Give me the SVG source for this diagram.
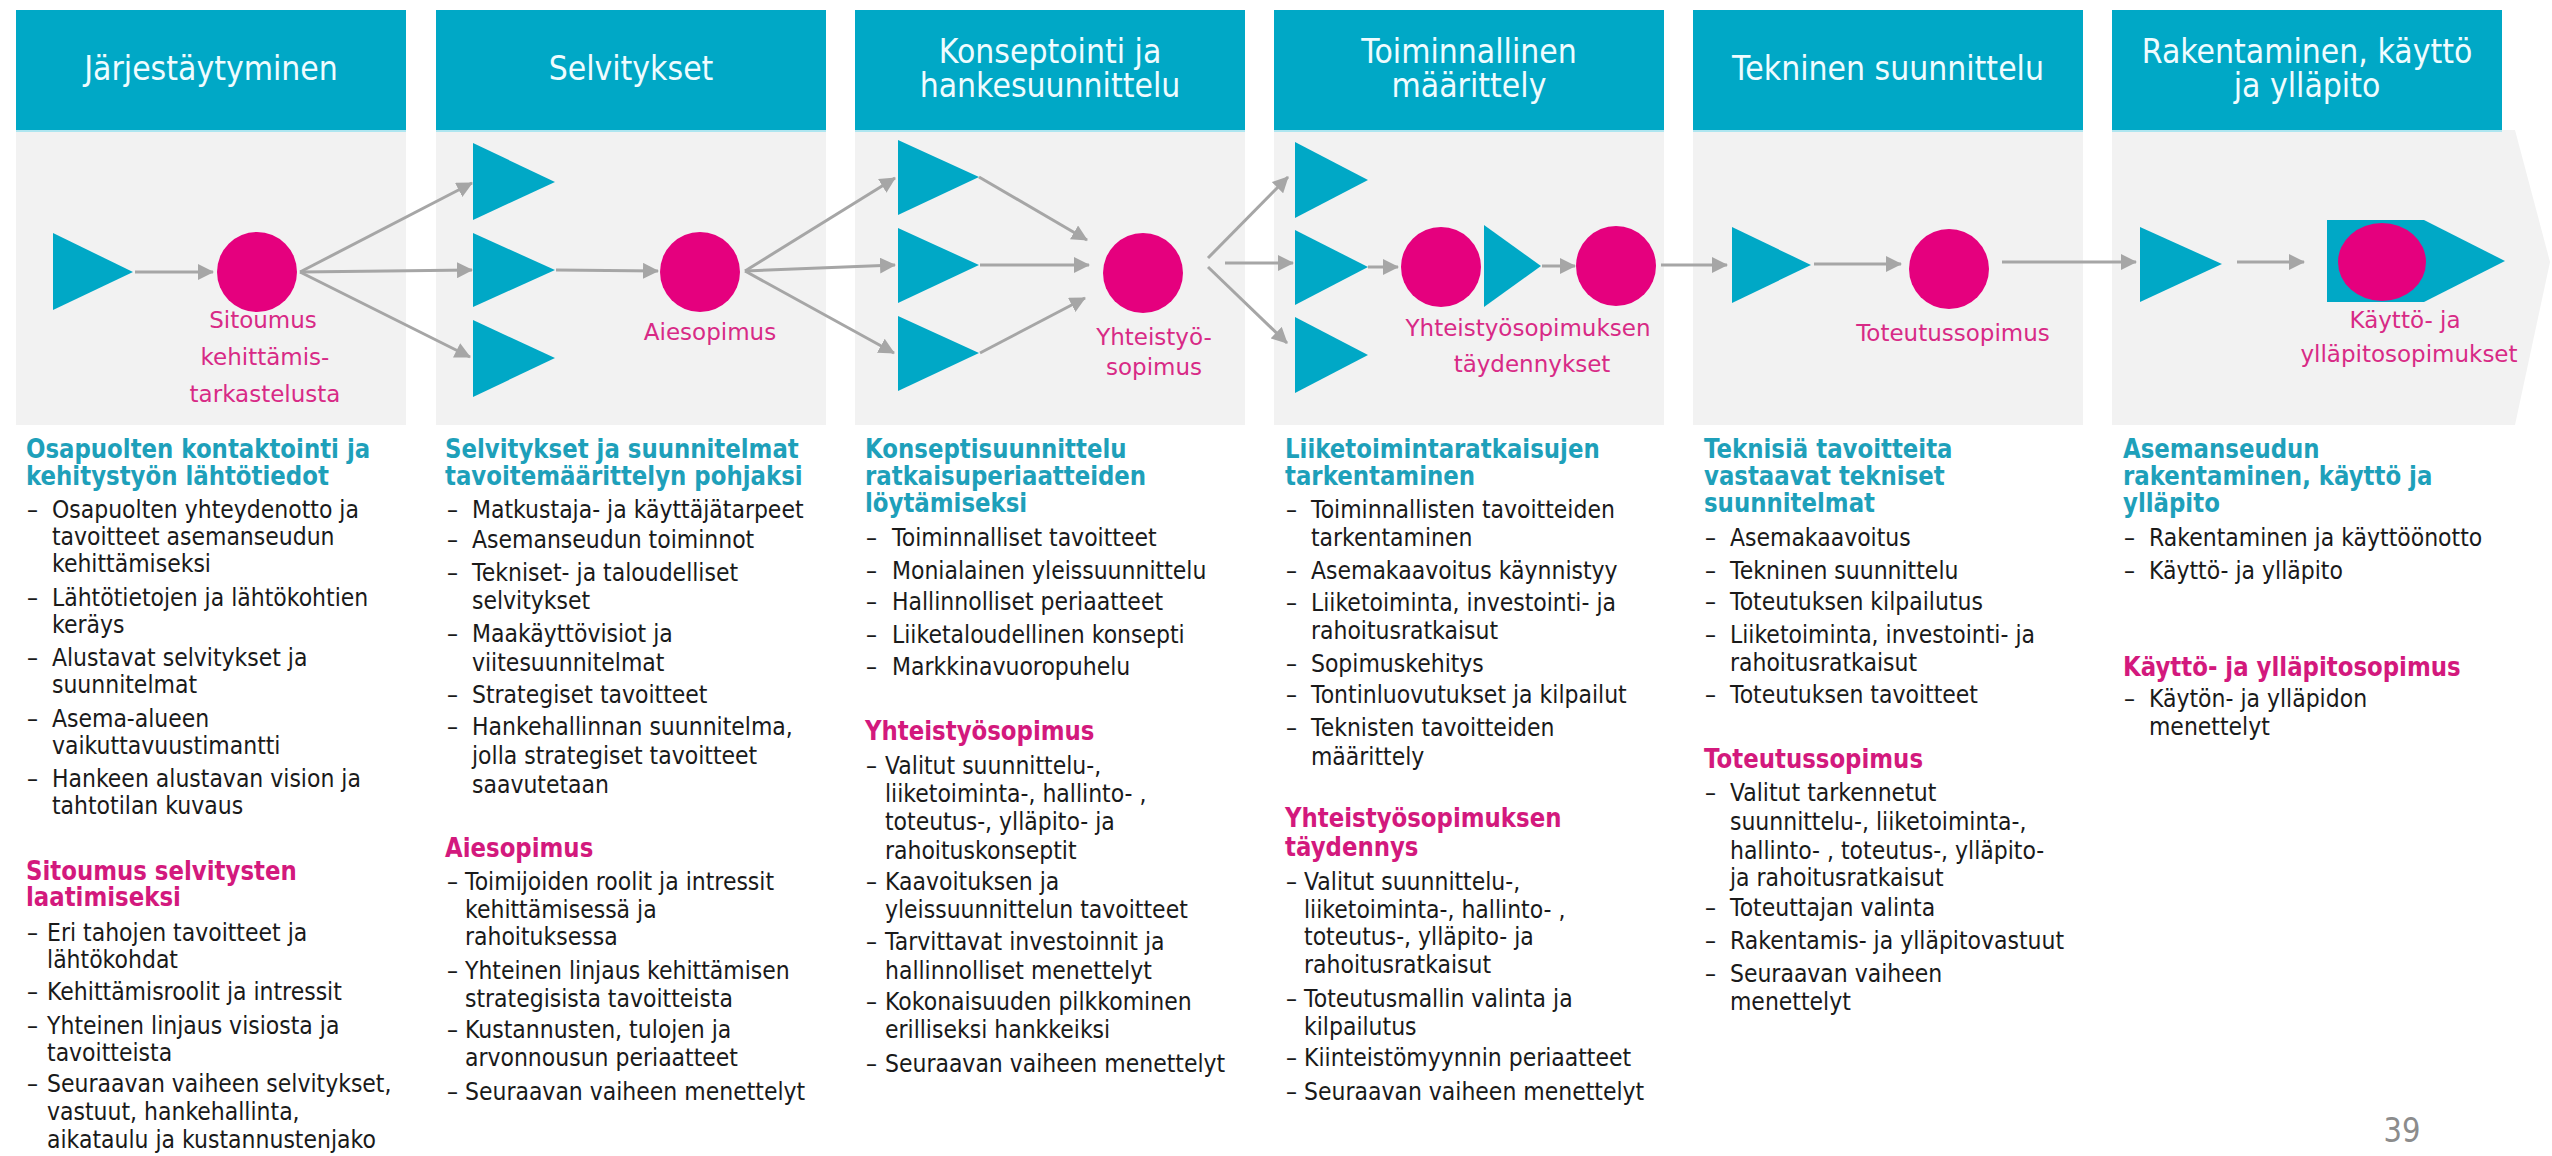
<svg xmlns="http://www.w3.org/2000/svg" width="2552" height="1156" viewBox="0 0 2552 1156">
<defs>
<style>
.hdr{fill:#00a8c6}
.body{fill:#f2f2f2}
.ht{font-family:"DejaVu Sans",Verdana,sans-serif;font-size:33px;fill:#effcff;text-anchor:middle}
.tri{fill:#00a8c6}
.cir{fill:#e5007e}
.lbl{font-family:"DejaVu Sans",Verdana,sans-serif;font-size:23px;fill:#d82a86;text-anchor:middle}
.con{stroke:#a6a6a6;stroke-width:3;fill:none;marker-end:url(#ah)}
.b{font-family:"DejaVu Sans",Verdana,sans-serif;font-size:25px;fill:#1a1a1a}
.h1{font-family:"DejaVu Sans",Verdana,sans-serif;font-size:26px;font-weight:bold;fill:#1ea0ba}
.h2{font-family:"DejaVu Sans",Verdana,sans-serif;font-size:26px;font-weight:bold;fill:#d3197d}
.pg{font-family:"DejaVu Sans",Verdana,sans-serif;font-size:33px;fill:#8c8c8c;text-anchor:middle}
</style>
<marker id="ah" markerWidth="16" markerHeight="16" refX="15" refY="8" orient="auto" markerUnits="userSpaceOnUse">
<path d="M0,0 L16,8 L0,16 z" fill="#a6a6a6"/>
</marker>
</defs>
<rect width="2552" height="1156" fill="#ffffff"/>

<g id="phases">
<rect class="body" x="16" y="130" width="390" height="295"/>
<rect class="body" x="436" y="130" width="390" height="295"/>
<rect class="body" x="855" y="130" width="390" height="295"/>
<rect class="body" x="1274" y="130" width="390" height="295"/>
<rect class="body" x="1693" y="130" width="390" height="295"/>
<path class="body" d="M2112,130 H2515 L2550,262 L2515,425 H2112 Z"/>
<rect class="hdr" x="16" y="10" width="390" height="120"/>
<rect class="hdr" x="436" y="10" width="390" height="120"/>
<rect class="hdr" x="855" y="10" width="390" height="120"/>
<rect class="hdr" x="1274" y="10" width="390" height="120"/>
<rect class="hdr" x="1693" y="10" width="390" height="120"/>
<rect class="hdr" x="2112" y="10" width="390" height="120"/>
<g stroke="#aee6f0" stroke-width="2">
<line x1="16" y1="131" x2="406" y2="131"/>
<line x1="436" y1="131" x2="826" y2="131"/>
<line x1="855" y1="131" x2="1245" y2="131"/>
<line x1="1274" y1="131" x2="1664" y2="131"/>
<line x1="1693" y1="131" x2="2083" y2="131"/>
<line x1="2112" y1="131" x2="2502" y2="131"/>
</g>
<text class="ht" transform="translate(211,80) scale(0.91,1)">Järjestäytyminen</text>
<text class="ht" transform="translate(631,80) scale(0.91,1)">Selvitykset</text>
<text class="ht" transform="translate(1050,63) scale(0.91,1)"><tspan x="0" y="0">Konseptointi ja</tspan><tspan x="0" y="34">hankesuunnittelu</tspan></text>
<text class="ht" transform="translate(1469,63) scale(0.91,1)"><tspan x="0" y="0">Toiminnallinen</tspan><tspan x="0" y="34">määrittely</tspan></text>
<text class="ht" transform="translate(1888,80) scale(0.91,1)">Tekninen suunnittelu</text>
<text class="ht" transform="translate(2307,63) scale(0.91,1)"><tspan x="0" y="0">Rakentaminen, käyttö</tspan><tspan x="0" y="34">ja ylläpito</tspan></text>
</g>

<g id="connectors">
<line class="con" x1="135" y1="272" x2="213" y2="272"/>
<line class="con" x1="300" y1="272" x2="472" y2="183"/>
<line class="con" x1="300" y1="272" x2="472" y2="270"/>
<line class="con" x1="300" y1="272" x2="470" y2="357"/>
<line class="con" x1="556" y1="270" x2="658" y2="271"/>
<line class="con" x1="745" y1="271" x2="895" y2="178"/>
<line class="con" x1="745" y1="271" x2="895" y2="265"/>
<line class="con" x1="745" y1="271" x2="894" y2="353"/>
<line class="con" x1="979" y1="177" x2="1087" y2="240"/>
<line class="con" x1="980" y1="265" x2="1089" y2="265"/>
<line class="con" x1="980" y1="353" x2="1085" y2="298"/>
<line class="con" x1="1208" y1="258" x2="1288" y2="177"/>
<line class="con" x1="1225" y1="263" x2="1293" y2="263"/>
<line class="con" x1="1208" y1="267" x2="1287" y2="343"/>
<line class="con" x1="1368" y1="267" x2="1398" y2="267"/>
<line class="con" x1="1542" y1="266" x2="1575" y2="266"/>
<line class="con" x1="1661" y1="265" x2="1727" y2="265"/>
<line class="con" x1="1814" y1="264" x2="1901" y2="264"/>
<line class="con" x1="2002" y1="262" x2="2136" y2="262"/>
<line class="con" x1="2237" y1="262" x2="2304" y2="262"/>
</g>

<g id="n-start1"><polygon class="tri" points="53,233 133,272 53,310"/></g>
<g id="n-sitoumus">
<circle class="cir" cx="257" cy="272" r="40"/>
<text class="lbl" x="263" y="328">Sitoumus</text>
<text class="lbl" x="265" y="365">kehittämis-</text>
<text class="lbl" x="265" y="402">tarkastelusta</text>
</g>
<g id="n-selv-a"><polygon class="tri" points="473,143 555,182 473,220"/></g>
<g id="n-selv-b"><polygon class="tri" points="473,233 555,270 473,307"/></g>
<g id="n-selv-c"><polygon class="tri" points="473,320 555,358 473,397"/></g>
<g id="n-aiesopimus">
<circle class="cir" cx="700" cy="272" r="40"/>
<text class="lbl" x="710" y="340">Aiesopimus</text>
</g>
<g id="n-kons-a"><polygon class="tri" points="898,140 979,177 898,215"/></g>
<g id="n-kons-b"><polygon class="tri" points="898,228 979,265 898,303"/></g>
<g id="n-kons-c"><polygon class="tri" points="898,316 979,353 898,391"/></g>
<g id="n-yhteistyosopimus">
<circle class="cir" cx="1143" cy="273" r="40"/>
<text class="lbl" x="1154" y="345">Yhteistyö-</text>
<text class="lbl" x="1154" y="375">sopimus</text>
</g>
<g id="n-toim-a"><polygon class="tri" points="1295,142 1368,180 1295,218"/></g>
<g id="n-toim-b"><polygon class="tri" points="1295,230 1368,267 1295,305"/></g>
<g id="n-toim-c"><polygon class="tri" points="1295,317 1368,355 1295,393"/></g>
<g id="n-toim-circle1"><circle class="cir" cx="1441" cy="267" r="40"/></g>
<g id="n-toim-d"><polygon class="tri" points="1484,225 1541,266 1484,307"/></g>
<g id="n-taydennykset">
<circle class="cir" cx="1616" cy="266" r="40"/>
<text class="lbl" x="1528" y="336">Yhteistyösopimuksen</text>
<text class="lbl" x="1532" y="372">täydennykset</text>
</g>
<g id="n-tekn"><polygon class="tri" points="1732,227 1811,265 1732,303"/></g>
<g id="n-toteutussopimus">
<circle class="cir" cx="1949" cy="269" r="40"/>
<text class="lbl" x="1953" y="341">Toteutussopimus</text>
</g>
<g id="n-rak"><polygon class="tri" points="2140,227 2222,264 2140,302"/></g>
<g id="n-kayttosopimukset">
<polygon class="tri" points="2327,220 2424,220 2505,261 2424,302 2327,302"/>
<ellipse class="cir" cx="2382" cy="262" rx="44" ry="39"/>
<text class="lbl" x="2405" y="328">Käyttö- ja</text>
<text class="lbl" x="2409" y="362">ylläpitosopimukset</text>
</g>

<g id="text-col1" transform="translate(26,0) scale(0.88,1)">
<text class="h1" x="0" y="458">Osapuolten kontaktointi ja</text>
<text class="h1" x="0" y="485">kehitystyön lähtötiedot</text>
<text class="b" y="518"><tspan x="1.1">–</tspan><tspan x="29.5">Osapuolten yhteydenotto ja</tspan></text>
<text class="b" x="29.5" y="545">tavoitteet asemanseudun</text>
<text class="b" x="29.5" y="572">kehittämiseksi</text>
<text class="b" y="606"><tspan x="1.1">–</tspan><tspan x="29.5">Lähtötietojen ja lähtökohtien</tspan></text>
<text class="b" x="29.5" y="633">keräys</text>
<text class="b" y="666"><tspan x="1.1">–</tspan><tspan x="29.5">Alustavat selvitykset ja</tspan></text>
<text class="b" x="29.5" y="693">suunnitelmat</text>
<text class="b" y="727"><tspan x="1.1">–</tspan><tspan x="29.5">Asema-alueen</tspan></text>
<text class="b" x="29.5" y="754">vaikuttavuustimantti</text>
<text class="b" y="787"><tspan x="1.1">–</tspan><tspan x="29.5">Hankeen alustavan vision ja</tspan></text>
<text class="b" x="29.5" y="814">tahtotilan kuvaus</text>
<text class="h2" x="0" y="880">Sitoumus selvitysten</text>
<text class="h2" x="0" y="906">laatimiseksi</text>
<text class="b" y="941"><tspan x="1.1">–</tspan><tspan x="23.9">Eri tahojen tavoitteet ja</tspan></text>
<text class="b" x="23.9" y="968">lähtökohdat</text>
<text class="b" y="1000"><tspan x="1.1">–</tspan><tspan x="23.9">Kehittämisroolit ja intressit</tspan></text>
<text class="b" y="1034"><tspan x="1.1">–</tspan><tspan x="23.9">Yhteinen linjaus visiosta ja</tspan></text>
<text class="b" x="23.9" y="1061">tavoitteista</text>
<text class="b" y="1092"><tspan x="1.1">–</tspan><tspan x="23.9">Seuraavan vaiheen selvitykset,</tspan></text>
<text class="b" x="23.9" y="1120">vastuut, hankehallinta,</text>
<text class="b" x="23.9" y="1148">aikataulu ja kustannustenjako</text>
</g>

<g id="text-col2" transform="translate(445,0) scale(0.88,1)">
<text class="h1" x="0" y="458">Selvitykset ja suunnitelmat</text>
<text class="h1" x="0" y="485">tavoitemäärittelyn pohjaksi</text>
<text class="b" y="518"><tspan x="2.3">–</tspan><tspan x="30.7">Matkustaja- ja käyttäjätarpeet</tspan></text>
<text class="b" y="548"><tspan x="2.3">–</tspan><tspan x="30.7">Asemanseudun toiminnot</tspan></text>
<text class="b" y="581"><tspan x="2.3">–</tspan><tspan x="30.7">Tekniset- ja taloudelliset</tspan></text>
<text class="b" x="30.7" y="609">selvitykset</text>
<text class="b" y="642"><tspan x="2.3">–</tspan><tspan x="30.7">Maakäyttövisiot ja</tspan></text>
<text class="b" x="30.7" y="671">viitesuunnitelmat</text>
<text class="b" y="703"><tspan x="2.3">–</tspan><tspan x="30.7">Strategiset tavoitteet</tspan></text>
<text class="b" y="735"><tspan x="2.3">–</tspan><tspan x="30.7">Hankehallinnan suunnitelma,</tspan></text>
<text class="b" x="30.7" y="764">jolla strategiset tavoitteet</text>
<text class="b" x="30.7" y="793">saavutetaan</text>
<text class="h2" x="0" y="857">Aiesopimus</text>
<text class="b" y="890"><tspan x="2.3">–</tspan><tspan x="22.7">Toimijoiden roolit ja intressit</tspan></text>
<text class="b" x="22.7" y="918">kehittämisessä ja</text>
<text class="b" x="22.7" y="945">rahoituksessa</text>
<text class="b" y="979"><tspan x="2.3">–</tspan><tspan x="22.7">Yhteinen linjaus kehittämisen</tspan></text>
<text class="b" x="22.7" y="1007">strategisista tavoitteista</text>
<text class="b" y="1038"><tspan x="2.3">–</tspan><tspan x="22.7">Kustannusten, tulojen ja</tspan></text>
<text class="b" x="22.7" y="1066">arvonnousun periaatteet</text>
<text class="b" y="1100"><tspan x="2.3">–</tspan><tspan x="22.7">Seuraavan vaiheen menettelyt</tspan></text>
</g>

<g id="text-col3" transform="translate(865,0) scale(0.88,1)">
<text class="h1" x="0" y="458">Konseptisuunnittelu</text>
<text class="h1" x="0" y="485">ratkaisuperiaatteiden</text>
<text class="h1" x="0" y="512">löytämiseksi</text>
<text class="b" y="546"><tspan x="1.1">–</tspan><tspan x="30.7">Toiminnalliset tavoitteet</tspan></text>
<text class="b" y="579"><tspan x="1.1">–</tspan><tspan x="30.7">Monialainen yleissuunnittelu</tspan></text>
<text class="b" y="610"><tspan x="1.1">–</tspan><tspan x="30.7">Hallinnolliset periaatteet</tspan></text>
<text class="b" y="643"><tspan x="1.1">–</tspan><tspan x="30.7">Liiketaloudellinen konsepti</tspan></text>
<text class="b" y="675"><tspan x="1.1">–</tspan><tspan x="30.7">Markkinavuoropuhelu</tspan></text>
<text class="h2" x="0" y="740">Yhteistyösopimus</text>
<text class="b" y="774"><tspan x="1.1">–</tspan><tspan x="22.7">Valitut suunnittelu-,</tspan></text>
<text class="b" x="22.7" y="802">liiketoiminta-, hallinto- ,</text>
<text class="b" x="22.7" y="830">toteutus-, ylläpito- ja</text>
<text class="b" x="22.7" y="859">rahoituskonseptit</text>
<text class="b" y="890"><tspan x="1.1">–</tspan><tspan x="22.7">Kaavoituksen ja</tspan></text>
<text class="b" x="22.7" y="918">yleissuunnittelun tavoitteet</text>
<text class="b" y="950"><tspan x="1.1">–</tspan><tspan x="22.7">Tarvittavat investoinnit ja</tspan></text>
<text class="b" x="22.7" y="979">hallinnolliset menettelyt</text>
<text class="b" y="1010"><tspan x="1.1">–</tspan><tspan x="22.7">Kokonaisuuden pilkkominen</tspan></text>
<text class="b" x="22.7" y="1038">erilliseksi hankkeiksi</text>
<text class="b" y="1072"><tspan x="1.1">–</tspan><tspan x="22.7">Seuraavan vaiheen menettelyt</tspan></text>
</g>

<g id="text-col4" transform="translate(1285,0) scale(0.88,1)">
<text class="h1" x="0" y="458">Liiketoimintaratkaisujen</text>
<text class="h1" x="0" y="485">tarkentaminen</text>
<text class="b" y="518"><tspan x="1.1">–</tspan><tspan x="29.5">Toiminnallisten tavoitteiden</tspan></text>
<text class="b" x="29.5" y="546">tarkentaminen</text>
<text class="b" y="579"><tspan x="1.1">–</tspan><tspan x="29.5">Asemakaavoitus käynnistyy</tspan></text>
<text class="b" y="611"><tspan x="1.1">–</tspan><tspan x="29.5">Liiketoiminta, investointi- ja</tspan></text>
<text class="b" x="29.5" y="639">rahoitusratkaisut</text>
<text class="b" y="672"><tspan x="1.1">–</tspan><tspan x="29.5">Sopimuskehitys</tspan></text>
<text class="b" y="703"><tspan x="1.1">–</tspan><tspan x="29.5">Tontinluovutukset ja kilpailut</tspan></text>
<text class="b" y="736"><tspan x="1.1">–</tspan><tspan x="29.5">Teknisten tavoitteiden</tspan></text>
<text class="b" x="29.5" y="765">määrittely</text>
<text class="h2" x="0" y="827">Yhteistyösopimuksen</text>
<text class="h2" x="0" y="856">täydennys</text>
<text class="b" y="890"><tspan x="1.1">–</tspan><tspan x="21.6">Valitut suunnittelu-,</tspan></text>
<text class="b" x="21.6" y="918">liiketoiminta-, hallinto- ,</text>
<text class="b" x="21.6" y="945">toteutus-, ylläpito- ja</text>
<text class="b" x="21.6" y="973">rahoitusratkaisut</text>
<text class="b" y="1007"><tspan x="1.1">–</tspan><tspan x="21.6">Toteutusmallin valinta ja</tspan></text>
<text class="b" x="21.6" y="1035">kilpailutus</text>
<text class="b" y="1066"><tspan x="1.1">–</tspan><tspan x="21.6">Kiinteistömyynnin periaatteet</tspan></text>
<text class="b" y="1100"><tspan x="1.1">–</tspan><tspan x="21.6">Seuraavan vaiheen menettelyt</tspan></text>
</g>

<g id="text-col5" transform="translate(1704,0) scale(0.88,1)">
<text class="h1" x="0" y="458">Teknisiä tavoitteita</text>
<text class="h1" x="0" y="485">vastaavat tekniset</text>
<text class="h1" x="0" y="512">suunnitelmat</text>
<text class="b" y="546"><tspan x="1.1">–</tspan><tspan x="29.5">Asemakaavoitus</tspan></text>
<text class="b" y="579"><tspan x="1.1">–</tspan><tspan x="29.5">Tekninen suunnittelu</tspan></text>
<text class="b" y="610"><tspan x="1.1">–</tspan><tspan x="29.5">Toteutuksen kilpailutus</tspan></text>
<text class="b" y="643"><tspan x="1.1">–</tspan><tspan x="29.5">Liiketoiminta, investointi- ja</tspan></text>
<text class="b" x="29.5" y="671">rahoitusratkaisut</text>
<text class="b" y="703"><tspan x="1.1">–</tspan><tspan x="29.5">Toteutuksen tavoitteet</tspan></text>
<text class="h2" x="0" y="768">Toteutussopimus</text>
<text class="b" y="801"><tspan x="1.1">–</tspan><tspan x="29.5">Valitut tarkennetut</tspan></text>
<text class="b" x="29.5" y="830">suunnittelu-, liiketoiminta-,</text>
<text class="b" x="29.5" y="859">hallinto- , toteutus-, ylläpito-</text>
<text class="b" x="29.5" y="886">ja rahoitusratkaisut</text>
<text class="b" y="916"><tspan x="1.1">–</tspan><tspan x="29.5">Toteuttajan valinta</tspan></text>
<text class="b" y="949"><tspan x="1.1">–</tspan><tspan x="29.5">Rakentamis- ja ylläpitovastuut</tspan></text>
<text class="b" y="982"><tspan x="1.1">–</tspan><tspan x="29.5">Seuraavan vaiheen</tspan></text>
<text class="b" x="29.5" y="1010">menettelyt</text>
</g>

<g id="text-col6" transform="translate(2123,0) scale(0.88,1)">
<text class="h1" x="0" y="458">Asemanseudun</text>
<text class="h1" x="0" y="485">rakentaminen, käyttö ja</text>
<text class="h1" x="0" y="512">ylläpito</text>
<text class="b" y="546"><tspan x="1.1">–</tspan><tspan x="29.5">Rakentaminen ja käyttöönotto</tspan></text>
<text class="b" y="579"><tspan x="1.1">–</tspan><tspan x="29.5">Käyttö- ja ylläpito</tspan></text>
<text class="h2" x="0" y="676">Käyttö- ja ylläpitosopimus</text>
<text class="b" y="707"><tspan x="1.1">–</tspan><tspan x="29.5">Käytön- ja ylläpidon</tspan></text>
<text class="b" x="29.5" y="735">menettelyt</text>
</g>

<text class="pg" transform="translate(2402,1142) scale(0.88,1)">39</text>
</svg>
